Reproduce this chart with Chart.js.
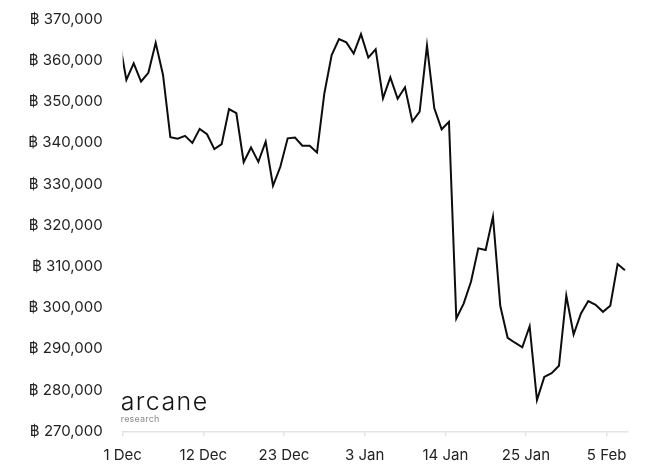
<!DOCTYPE html>
<html>
<head>
<meta charset="utf-8">
<script src="https://cdn.jsdelivr.net/npm/chart.js@4/dist/chart.umd.min.js"></script>
<style>
  html, body { margin: 0; padding: 0; background: #ffffff; }
  #wrap { width: 657px; height: 473px; position: relative; }
</style>
</head>
<body>
<div id="wrap"><canvas id="chart" width="657" height="473"></canvas></div>
<script>
// Daily closing values (timestamps at midday UTC)
const dates = [
  '2021-11-30',
  '2021-12-01','2021-12-02','2021-12-03','2021-12-04','2021-12-05','2021-12-06','2021-12-07',
  '2021-12-08','2021-12-09','2021-12-10','2021-12-11','2021-12-12','2021-12-13','2021-12-14',
  '2021-12-15','2021-12-16','2021-12-17','2021-12-18','2021-12-19','2021-12-20','2021-12-21',
  '2021-12-22','2021-12-23','2021-12-24','2021-12-25','2021-12-26','2021-12-27','2021-12-28',
  '2021-12-29','2021-12-30','2021-12-31',
  '2022-01-01','2022-01-02','2022-01-03','2022-01-04','2022-01-05','2022-01-06','2022-01-07',
  '2022-01-08','2022-01-09','2022-01-10','2022-01-11','2022-01-12','2022-01-13','2022-01-14',
  '2022-01-15','2022-01-16','2022-01-17','2022-01-18','2022-01-19','2022-01-20','2022-01-21',
  '2022-01-22','2022-01-23','2022-01-24','2022-01-25','2022-01-26','2022-01-27','2022-01-28',
  '2022-01-29','2022-01-30','2022-01-31',
  '2022-02-01','2022-02-02','2022-02-03','2022-02-04','2022-02-05','2022-02-06','2022-02-07'
];

const values = [
  365300,
  355300, 359300, 354900, 357000, 364300, 356500, 341400,
  341000, 341700, 340000, 343400, 342100, 338500, 339700,
  348200, 347200, 335300, 338900, 335400, 340300, 329600,
  334200, 341100, 341300, 339300, 339300, 337700, 352000,
  361300, 365200, 364400,
  361700, 366400, 360700, 362700, 350800, 355900, 350700,
  353500, 345200, 347600, 363600, 348400, 343300, 345100,
  297400, 301000, 306300, 314400, 314000, 322100, 300400,
  292700, 291500, 290400, 295500, 277600, 283200, 284100,
  285900, 302900, 293500,
  298600, 301600, 300700, 299000, 300500, 310600, 309100
];

// Axis range and labelled dates
const axisStart = '2021-12-01T00:00:00Z';
const axisEnd = '2022-02-07T21:00:00Z';
const tickDates = ['2021-12-01', '2021-12-12', '2021-12-23', '2022-01-03', '2022-01-14', '2022-01-25', '2022-02-05'];
const tickLabels = ['1 Dec', '12 Dec', '23 Dec', '3 Jan', '14 Jan', '25 Jan', '5 Feb'];

const yMin = 270000;
const yMax = 370000;
const yStep = 10000;

const DAY = 86400000;
const t0 = Date.parse(axisStart);
const dayOf = (iso) => (Date.parse(iso) - t0) / DAY;

const points = dates.map((d, i) => ({ x: dayOf(d + 'T12:00:00Z'), y: values[i] }));
const tickDays = tickDates.map(d => dayOf(d + 'T00:00:00Z'));

const FONT = 'Inter, "Open Sans", sans-serif';
const fmt = new Intl.NumberFormat('en-US');

const logoPlugin = {
  id: 'logo',
  afterDraw(chart) {
    const { ctx, chartArea } = chart;
    ctx.save();
    ctx.textAlign = 'left';
    ctx.textBaseline = 'alphabetic';
    ctx.fillStyle = '#111';
    ctx.font = '300 25px ' + FONT;
    ctx.letterSpacing = '1.4px';
    ctx.fillText('arcane', chartArea.left - 2, chartArea.bottom - 21.5);
    ctx.fillStyle = '#8a8a8a';
    ctx.font = '400 9px ' + FONT;
    ctx.letterSpacing = '0.2px';
    ctx.fillText('research', chartArea.left - 2, chartArea.bottom - 9);
    ctx.restore();
  }
};

new Chart(document.getElementById('chart'), {
  type: 'line',
  data: {
    datasets: [{
      data: points,
      borderColor: '#0d0d0d',
      borderWidth: 2,
      pointRadius: 0,
      pointHoverRadius: 0,
      tension: 0,
      fill: false
    }]
  },
  options: {
    responsive: false,
    animation: false,
    events: [],
    layout: { padding: { top: 19.3, right: 29.3, bottom: 0, left: 0 } },
    plugins: {
      legend: { display: false },
      tooltip: { enabled: false }
    },
    scales: {
      x: {
        type: 'linear',
        min: 0,
        max: dayOf(axisEnd),
        afterBuildTicks(scale) {
          scale.ticks = tickDays.map(v => ({ value: v }));
        },
        afterFit(scale) { scale.height = 41.7; },
        border: { display: true, color: '#e3e3e3', width: 1.5 },
        grid: { drawOnChartArea: false, drawTicks: true, tickLength: 5, color: '#e3e3e3', lineWidth: 1.5 },
        ticks: {
          maxRotation: 0,
          autoSkip: false,
          padding: 10,
          color: '#222',
          font: { family: FONT, size: 15 },
          callback(value) {
            const i = tickDays.indexOf(value);
            return i >= 0 ? tickLabels[i] : '';
          }
        }
      },
      y: {
        min: yMin,
        max: yMax,
        afterFit(scale) {
          scale.width = 122.7;
          // keep label gap from inflating the vertical layout padding
          scale.paddingTop = 8;
          scale.paddingBottom = 8;
        },
        border: { display: false },
        grid: { display: false, drawTicks: false },
        ticks: {
          stepSize: yStep,
          padding: 20,
          color: '#222',
          font: { family: FONT, size: 15 },
          callback(value) { return '\u0E3F ' + fmt.format(value); }
        }
      }
    }
  },
  plugins: [logoPlugin]
});
</script>
</body>
</html>
